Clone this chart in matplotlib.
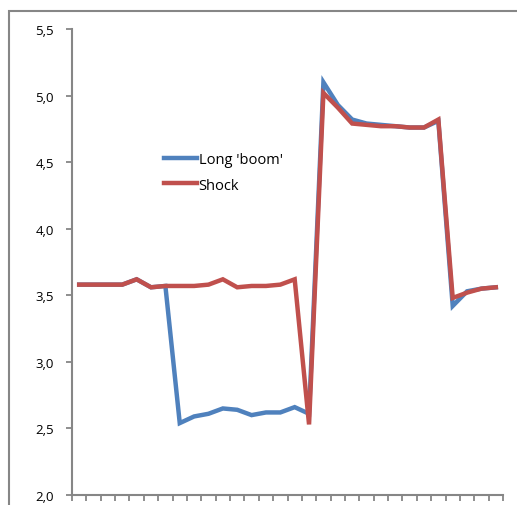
import numpy as np
import matplotlib.pyplot as plt
from matplotlib.patches import Rectangle

# values (30 periods)
long_boom = [3.58, 3.58, 3.58, 3.58, 3.62, 3.56, 3.57, 2.54, 2.59, 2.61,
             2.65, 2.64, 2.60, 2.62, 2.62, 2.66, 2.61, 5.10, 4.93, 4.82,
             4.79, 4.78, 4.77, 4.76, 4.76, 4.81, 3.42, 3.53, 3.55, 3.56]
shock = [3.58, 3.58, 3.58, 3.58, 3.62, 3.56, 3.57, 3.57, 3.57, 3.58,
         3.62, 3.56, 3.57, 3.57, 3.58, 3.62, 2.53, 5.02, 4.91, 4.79,
         4.78, 4.77, 4.77, 4.76, 4.76, 4.82, 3.48, 3.52, 3.55, 3.56]
y_ticks = [2.0, 2.5, 3.0, 3.5, 4.0, 4.5, 5.0, 5.5]

plt.rcParams['font.family'] = ['Open Sans', 'DejaVu Sans']
grey = '#868686'

fig = plt.figure(figsize=(5.17, 5.06), dpi=100)
ax = fig.add_axes([72 / 517, 1 - 496 / 506, (503 - 72) / 517, (496 - 30) / 506])

# outer chart border
fig.patches.append(Rectangle((9 / 517, -0.05), 1.1, 0.05 + 1 - 12 / 506,
                             transform=fig.transFigure, fill=False,
                             edgecolor=grey, linewidth=1.5))

x = np.arange(len(shock))
ax.plot(x, long_boom, color='#4F81BD', linewidth=3.2, label="Long 'boom'",
        solid_joinstyle='miter')
ax.plot(x, shock, color='#C0504D', linewidth=3.2, label='Shock',
        solid_joinstyle='miter')

ax.set_xlim(-0.5, len(shock) - 0.5)
ax.set_ylim(2.0, 5.5)
ax.set_xticks(np.arange(-0.5, len(shock), 1))
ax.set_xticklabels([])
ax.set_yticks(y_ticks)
ax.set_yticklabels([f'{v:.1f}'.replace('.', ',') for v in y_ticks])

for s in ['top', 'right']:
    ax.spines[s].set_visible(False)
for s in ['left', 'bottom']:
    ax.spines[s].set_color(grey)
    ax.spines[s].set_linewidth(1.5)
ax.tick_params(axis='both', colors=grey, width=1.3, length=4, labelcolor='black',
               labelsize=9.5, pad=9)

ax.legend(loc='upper left', bbox_to_anchor=(0.182, 0.765), frameon=False,
          fontsize=10.5, handlelength=2.3, handletextpad=0.1, labelspacing=0.75)

fig.savefig('out.png', dpi=100)
